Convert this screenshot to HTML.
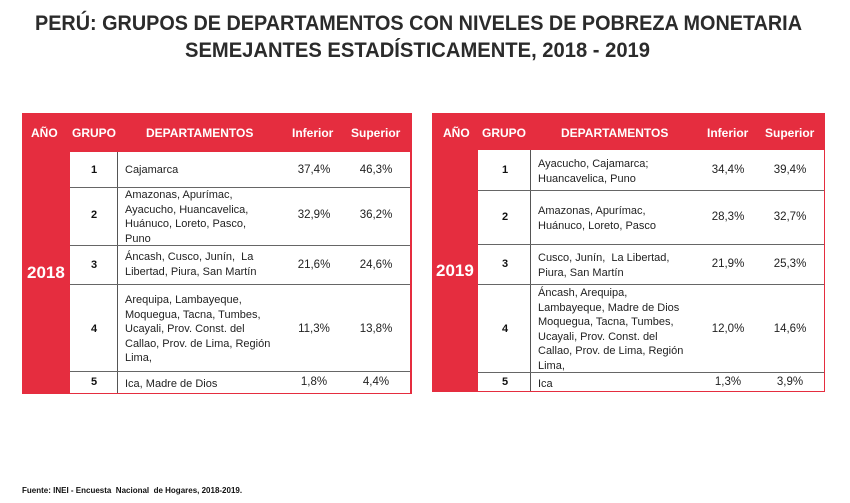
<!DOCTYPE html>
<html><head><meta charset="utf-8">
<style>
body{margin:0;width:850px;height:503px;background:#fff;position:relative;overflow:hidden;font-family:"Liberation Sans",sans-serif;}
.abs{position:absolute;}
.red{background:#e52d3f;}
.hd{position:absolute;color:#fff;font-weight:bold;font-size:12px;top:126px;}
.yr{position:absolute;color:#fff;font-weight:bold;font-size:17px;}
.body{position:absolute;background:#fff;}
.hl{position:absolute;height:1px;background:#666;}
.vl{position:absolute;width:1px;background:#555;}
.g{position:absolute;font-weight:bold;font-size:11px;color:#111;width:20px;text-align:center;}
.d{position:absolute;font-size:11px;line-height:14.5px;color:#222;}
.n{position:absolute;font-size:11.5px;color:#222;width:50px;text-align:center;}
.src{position:absolute;left:22px;top:486px;font-size:8px;font-weight:bold;color:#111;}
</style></head><body>
<svg class="abs" style="left:0;top:0" width="850" height="70">
<text x="35" y="30" textLength="767" lengthAdjust="spacingAndGlyphs" font-family="Liberation Sans" font-weight="bold" font-size="21" fill="#2b2b2b">PERÚ: GRUPOS DE DEPARTAMENTOS CON NIVELES DE POBREZA MONETARIA</text>
<text x="185" y="57" textLength="465" lengthAdjust="spacingAndGlyphs" font-family="Liberation Sans" font-weight="bold" font-size="21" fill="#2b2b2b">SEMEJANTES ESTADÍSTICAMENTE, 2018 - 2019</text>
</svg>

<!-- Table 2018 -->
<div class="abs red" style="left:22px;top:113px;width:390px;height:281px"></div>
<div class="body" style="left:70px;top:152px;width:340px;height:241px"></div>
<div class="hd" style="left:31px">AÑO</div>
<div class="hd" style="left:72px">GRUPO</div>
<div class="hd" style="left:146px">DEPARTAMENTOS</div>
<div class="hd" style="left:292px">Inferior</div>
<div class="hd" style="left:351px">Superior</div>
<div class="yr" style="left:27px;top:263px">2018</div>
<div class="vl" style="left:117px;top:152px;height:241px"></div>
<div class="hl" style="left:70px;top:187px;width:340px"></div>
<div class="hl" style="left:70px;top:245px;width:340px"></div>
<div class="hl" style="left:70px;top:284px;width:340px"></div>
<div class="hl" style="left:70px;top:371px;width:340px"></div>
<div class="g" style="left:84px;top:164px">1</div>
<div class="d" style="left:125px;top:163px">Cajamarca</div>
<div class="n" style="left:289px;top:164px">37,4%</div><div class="n" style="left:351px;top:164px">46,3%</div>
<div class="g" style="left:84px;top:209px">2</div>
<div class="d" style="left:125px;top:188px">Amazonas, Apurímac,<br>Ayacucho, Huancavelica,<br>Huánuco, Loreto, Pasco,<br>Puno</div>
<div class="n" style="left:289px;top:209px">32,9%</div><div class="n" style="left:351px;top:209px">36,2%</div>
<div class="g" style="left:84px;top:259px">3</div>
<div class="d" style="left:125px;top:250px">Áncash, Cusco, Junín, &nbsp;La<br>Libertad, Piura, San Martín</div>
<div class="n" style="left:289px;top:259px">21,6%</div><div class="n" style="left:351px;top:259px">24,6%</div>
<div class="g" style="left:84px;top:323px">4</div>
<div class="d" style="left:125px;top:293px">Arequipa, Lambayeque,<br>Moquegua, Tacna, Tumbes,<br>Ucayali, Prov. Const. del<br>Callao, Prov. de Lima, Región<br>Lima,</div>
<div class="n" style="left:289px;top:323px">11,3%</div><div class="n" style="left:351px;top:323px">13,8%</div>
<div class="g" style="left:84px;top:376px">5</div>
<div class="d" style="left:125px;top:377px">Ica, Madre de Dios</div>
<div class="n" style="left:289px;top:376px">1,8%</div><div class="n" style="left:351px;top:376px">4,4%</div>

<!-- Table 2019 -->
<div class="abs red" style="left:432px;top:113px;width:393px;height:279px"></div>
<div class="body" style="left:478px;top:150px;width:346px;height:241px"></div>
<div class="hd" style="left:443px">AÑO</div>
<div class="hd" style="left:482px">GRUPO</div>
<div class="hd" style="left:561px">DEPARTAMENTOS</div>
<div class="hd" style="left:707px">Inferior</div>
<div class="hd" style="left:765px">Superior</div>
<div class="yr" style="left:436px;top:261px">2019</div>
<div class="vl" style="left:530px;top:150px;height:241px"></div>
<div class="hl" style="left:478px;top:190px;width:346px"></div>
<div class="hl" style="left:478px;top:244px;width:346px"></div>
<div class="hl" style="left:478px;top:284px;width:346px"></div>
<div class="hl" style="left:478px;top:372px;width:346px"></div>
<div class="g" style="left:495px;top:164px">1</div>
<div class="d" style="left:538px;top:157px">Ayacucho, Cajamarca;<br>Huancavelica, Puno</div>
<div class="n" style="left:703px;top:164px">34,4%</div><div class="n" style="left:765px;top:164px">39,4%</div>
<div class="g" style="left:495px;top:211px">2</div>
<div class="d" style="left:538px;top:204px">Amazonas, Apurímac,<br>Huánuco, Loreto, Pasco</div>
<div class="n" style="left:703px;top:211px">28,3%</div><div class="n" style="left:765px;top:211px">32,7%</div>
<div class="g" style="left:495px;top:258px">3</div>
<div class="d" style="left:538px;top:251px">Cusco, Junín, &nbsp;La Libertad,<br>Piura, San Martín</div>
<div class="n" style="left:703px;top:258px">21,9%</div><div class="n" style="left:765px;top:258px">25,3%</div>
<div class="g" style="left:495px;top:323px">4</div>
<div class="d" style="left:538px;top:286px">Áncash, Arequipa,<br>Lambayeque, Madre de Dios<br>Moquegua, Tacna, Tumbes,<br>Ucayali, Prov. Const. del<br>Callao, Prov. de Lima, Región<br>Lima,</div>
<div class="n" style="left:703px;top:323px">12,0%</div><div class="n" style="left:765px;top:323px">14,6%</div>
<div class="g" style="left:495px;top:376px">5</div>
<div class="d" style="left:538px;top:377px">Ica</div>
<div class="n" style="left:703px;top:376px">1,3%</div><div class="n" style="left:765px;top:376px">3,9%</div>

<div class="src">Fuente: INEI - Encuesta &nbsp;Nacional &nbsp;de Hogares, 2018-2019.</div>
</body></html>
